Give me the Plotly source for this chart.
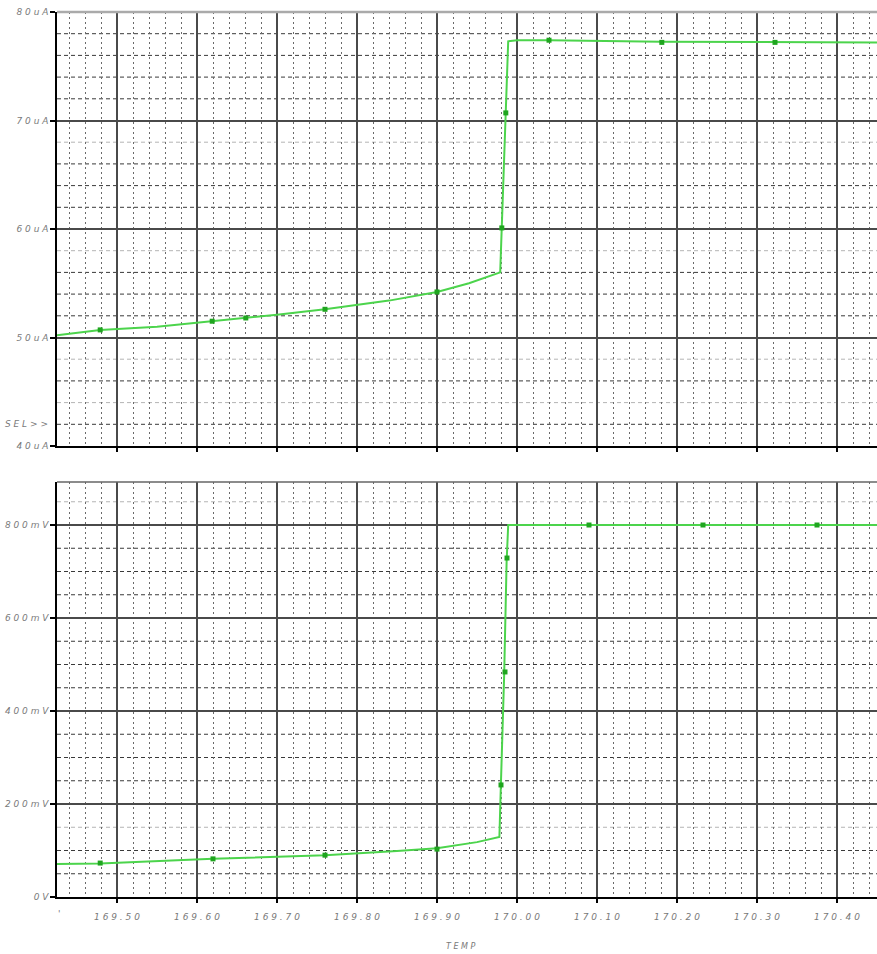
import plotly.graph_objects as go

# ---------------- data ----------------
# top panel: current (uA) vs TEMP
top_temp = [169.425, 169.479, 169.55, 169.619, 169.661, 169.70, 169.76, 169.84,
            169.90, 169.94, 169.979, 169.981, 169.986, 169.989, 170.00, 170.04,
            170.18, 170.32, 170.45]
top_cur = [50.2, 50.7, 51.0, 51.5, 51.8, 52.1, 52.6, 53.4,
           54.2, 55.0, 56.0, 60.1, 70.8, 77.3, 77.4, 77.4,
           77.25, 77.2, 77.2]
top_mk_temp = [169.479, 169.619, 169.661, 169.76, 169.90, 169.981, 169.986, 170.04, 170.181, 170.3225]
top_mk_cur = [50.7, 51.5, 51.8, 52.6, 54.2, 60.1, 70.7, 77.4, 77.2, 77.2]

# bottom panel: voltage (V) vs TEMP
bot_temp = [169.425, 169.479, 169.62, 169.76, 169.85, 169.90, 169.95, 169.978,
            169.980, 169.984, 169.987, 169.989, 170.10, 170.30, 170.45]
bot_volt = [0.071, 0.072, 0.082, 0.090, 0.099, 0.105, 0.118, 0.129,
            0.25, 0.48, 0.72, 0.80, 0.80, 0.80, 0.80]
bot_mk_temp = [169.479, 169.62, 169.76, 169.90, 169.98, 169.985, 169.9875, 170.09, 170.2325, 170.375]
bot_mk_volt = [0.073, 0.082, 0.090, 0.103, 0.241, 0.484, 0.729, 0.80, 0.80, 0.80]

x_ticks = [169.50, 169.60, 169.70, 169.80, 169.90, 170.00, 170.10, 170.20, 170.30, 170.40]
x_tick_text = ["169.50", "169.60", "169.70", "169.80", "169.90", "170.00", "170.10", "170.20", "170.30", "170.40"]
top_ticks = [40, 50, 60, 70, 80]
top_tick_text = ["40uA", "50uA", "60uA", "70uA", "80uA"]
bot_ticks = [0.0, 0.2, 0.4, 0.6, 0.8]
bot_tick_text = ["0V", "200mV", "400mV", "600mV", "800mV"]


def spaced(s):
    return " ".join(list(s))


# ---------------- figure ----------------
LINE = "#4cd44c"
MK = "#1fa51f"
GRID_MAJ = "#4a4a4a"
GRID_H = "#3a3a3a"
GRID_H_LIGHT = "#b4b4b4"
GRID_V = "#6a6a6a"
LABEL = "#7a7a7a"

fig = go.Figure()
fig.add_trace(go.Scatter(x=top_temp, y=top_cur, mode="lines", line=dict(color=LINE, width=2),
                         xaxis="x", yaxis="y", showlegend=False, hoverinfo="skip"))
fig.add_trace(go.Scatter(x=top_mk_temp, y=top_mk_cur, mode="markers",
                         marker=dict(color=MK, size=5, symbol="square"),
                         xaxis="x", yaxis="y", showlegend=False))
fig.add_trace(go.Scatter(x=bot_temp, y=bot_volt, mode="lines", line=dict(color=LINE, width=2),
                         xaxis="x2", yaxis="y2", showlegend=False, hoverinfo="skip"))
fig.add_trace(go.Scatter(x=bot_mk_temp, y=bot_mk_volt, mode="markers",
                         marker=dict(color=MK, size=5, symbol="square"),
                         xaxis="x2", yaxis="y2", showlegend=False))

# body margin is removed by post_script below, so figure = full window
W, H = 877, 954
ML, MR, MT = 57, 0, 12
BOT = 897                # bottom axis pixel row
MB = H - BOT
ph = H - MT - MB
top_dom = [(897 - 446) / ph, 1.0]
bot_dom = [0.0, (897 - 482) / ph]

lab_font = dict(family="DejaVu Sans", size=9, color=LABEL, style="italic")

xcommon = dict(range=[169.425, 170.45], tickmode="array", tickvals=x_ticks,
               automargin=False,
               showgrid=True, gridcolor=GRID_MAJ, gridwidth=1.5,
               minor=dict(dtick=0.02, tick0=169.5, showgrid=True, gridcolor=GRID_V,
                          griddash="2px,3px", gridwidth=1),
               showline=True, linecolor="black", linewidth=1.5, zeroline=False,
               ticks="outside", ticklen=4, tickcolor="black", tickwidth=1.5)

fig.update_layout(
    width=W, height=H,
    margin=dict(l=ML, r=MR, t=MT, b=MB, autoexpand=False),
    paper_bgcolor="white", plot_bgcolor="white",
    xaxis=dict(**xcommon, domain=[0, 1], anchor="y", showticklabels=False),
    xaxis2=dict(**xcommon, domain=[0, 1], anchor="y2",
                ticktext=[spaced(t) for t in x_tick_text],
                tickfont=lab_font, ticklabelstandoff=6),
    yaxis=dict(domain=top_dom, range=[40, 80], tickmode="array", tickvals=top_ticks,
               ticktext=[spaced(t) for t in top_tick_text], tickfont=lab_font, anchor="x",
               ticklabeloverflow="allow", automargin=False,
               showgrid=True, gridcolor=GRID_MAJ, gridwidth=1.5,
               showline=True, linecolor="black", linewidth=1.5, zeroline=False,
               ticks="outside", ticklen=5, tickcolor="black", tickwidth=1.5),
    yaxis2=dict(domain=bot_dom, range=[0, 0.8925], tickmode="array", tickvals=bot_ticks,
                ticktext=[spaced(t) for t in bot_tick_text], tickfont=lab_font, anchor="x2",
                ticklabeloverflow="allow", automargin=False,
                showgrid=True, gridcolor=GRID_MAJ, gridwidth=1.5,
                showline=True, linecolor="black", linewidth=1.5, zeroline=False,
                ticks="outside", ticklen=5, tickcolor="black", tickwidth=1.5),
)

# minor horizontal grid (dashed; a few rendered lighter as in the reference)
top_light = {44, 48, 58, 68}
for v in range(42, 80, 2):
    if v % 10 == 0:
        continue
    fig.add_shape(type="line", xref="x domain", yref="y", x0=0, x1=1, y0=v, y1=v,
                  layer="below",
                  line=dict(color=GRID_H_LIGHT if v in top_light else GRID_H,
                            width=1, dash="4px,3px"))
bot_light = {150, 850}
for mv in range(50, 900, 50):
    if mv % 200 == 0:
        continue
    fig.add_shape(type="line", xref="x2 domain", yref="y2", x0=0, x1=1,
                  y0=mv / 1000, y1=mv / 1000, layer="below",
                  line=dict(color=GRID_H_LIGHT if mv in bot_light else GRID_H,
                            width=1, dash="4px,3px"))

# top borders of the two panels
fig.add_shape(type="line", xref="paper", yref="paper", x0=0, x1=1, y0=1, y1=1,
              line=dict(color="#aaaaaa", width=2.5))
fig.add_shape(type="line", xref="paper", yref="paper", x0=0, x1=1,
              y0=bot_dom[1], y1=bot_dom[1], line=dict(color="#666666", width=1.5))

fig.add_annotation(text=spaced("SEL>>"), xref="paper", yref="y", x=-0.008, y=42,
                   xanchor="right", yanchor="middle", showarrow=False, font=lab_font)
fig.add_annotation(text="'", xref="paper", yref="paper", x=0.002, y=-(914 - 897) / ph,
                   xanchor="center", yanchor="middle", showarrow=False, font=lab_font)
fig.add_annotation(text=spaced("TEMP"), xref="paper", yref="paper", x=(460 - ML) / (W - ML),
                   y=-(947 - 897) / ph, xanchor="center", yanchor="middle",
                   showarrow=False, font=dict(family="DejaVu Sans", size=8,
                                              color=LABEL, style="italic"))

fig.write_html("out.html", config={"displayModeBar": False},
               post_script="document.body.style.margin='0px';"
                           "document.body.style.overflow='hidden';")
